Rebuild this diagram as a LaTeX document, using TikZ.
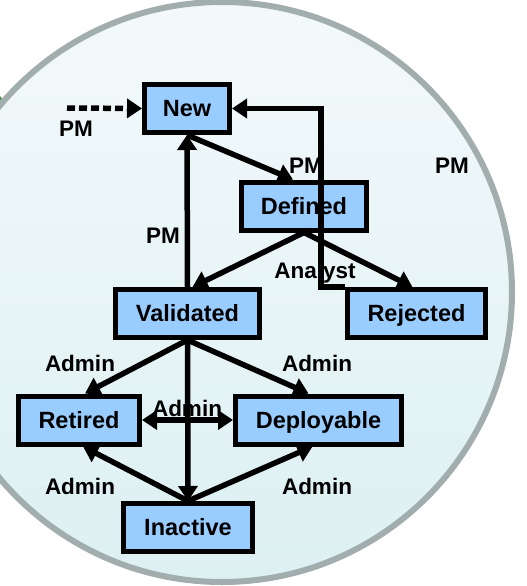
\documentclass[tikz,border=0pt]{standalone}
\usepackage{fontspec}
\setmainfont{Liberation Sans}
\usepackage{tikz}
\usetikzlibrary{arrows.meta}
\definecolor{boxblue}{RGB}{153,204,255}
\definecolor{rimgray}{RGB}{162,174,174}
\definecolor{paletop}{RGB}{243,249,251}
\definecolor{palebottom}{RGB}{221,240,242}
\definecolor{leafgreen}{RGB}{86,170,92}
\tikzstyle{arrow} = [line width=5.5pt,-{Triangle[length=15pt,width=19pt]}]
\tikzstyle{stage} = [rectangle, minimum height=48pt, text centered, text height=16.5pt, text depth=0pt, draw=black, line width=5pt, fill=boxblue, font=\fontsize{23.5}{26}\selectfont\bfseries]
\tikzstyle{role} = [inner sep=0pt, text height=16.2pt, text depth=0pt, font=\fontsize{22.5}{25}\selectfont\bfseries]

\begin{document}
\begin{tikzpicture}[x=1pt,y=-1pt]
%----------------------------------------------------------------------------
% Background
\useasboundingbox (0,0) rectangle (527,586);
\filldraw [fill=leafgreen, draw=leafgreen!70!black, line width=1pt] (-18,126) ellipse [x radius=27, y radius=39];
\draw [line width=6pt, draw=rimgray, top color=paletop, bottom color=palebottom] (222,292) circle [radius=290];

%----------------------------------------------------------------------------
% Placement of state nodes
\node (new) [stage, minimum width=85pt] at (187,108.5) {New};
\node (defined) [stage, minimum width=125pt] at (304,206) {Defined};
\node (validated) [stage, minimum width=144pt] at (187.5,313.5) {Validated};
\node (rejected) [stage, minimum width=138pt] at (416.5,313.5) {Rejected};
\node (retired) [stage, minimum width=121pt] at (79,420) {Retired};
\node (deployable) [stage, minimum width=166pt] at (318.5,420) {Deployable};
\node (inactive) [stage, minimum width=129pt] at (188,527.5) {Inactive};
\coordinate (pmStart) at (67,108);

%----------------------------------------------------------------------------
% Lines
\draw [arrow, dash pattern=on 8pt off 4pt] (pmStart) -- (new.west);
\draw [arrow] (new.south) -- ([xshift=-11pt]defined.north);
\draw [arrow] (rejected.north west) -- ++(-24,0) |- (new.east);
\draw [arrow] (defined.south) -- ([xshift=5pt]validated.north);
\draw [arrow] (defined.south) -- ([xshift=-4pt]rejected.north);
\draw [arrow] (validated.north) -- (new.south);

\draw [arrow] (validated.south) -- ([xshift=6pt]retired.north);
\draw [arrow] (validated.south) -- ([xshift=-10pt]deployable.north);
\draw [arrow] (validated.south) -- (inactive.north);
\draw [arrow, {Triangle[length=15pt,width=19pt]}-{Triangle[length=15pt,width=19pt]}] (retired.east) -- (deployable.west);
\draw [arrow] (inactive.north) -- ([xshift=4pt]retired.south);
\draw [arrow] (inactive.north) -- ([xshift=-6pt]deployable.south);

%----------------------------------------------------------------------------
% Role labels
\node (pmDashed) [role] at (76,128.5) {PM};
\node (pmDefine) [role] at (306,165) {PM};
\node (pmReject) [role] at (452,165) {PM};
\node (pmValid) [role] at (163,235) {PM};
\node (analyst) [role] at (315,270) {Analyst};
\node (adminRetire) [role] at (80,363.5) {Admin};
\node (adminDeploy) [role] at (317,363.5) {Admin};
\node (adminSwap) [role] at (187,408.5) {Admin};
\node (adminInactR) [role] at (80,486.5) {Admin};
\node (adminInactD) [role] at (317,486.5) {Admin};

\end{tikzpicture}
\end{document}
